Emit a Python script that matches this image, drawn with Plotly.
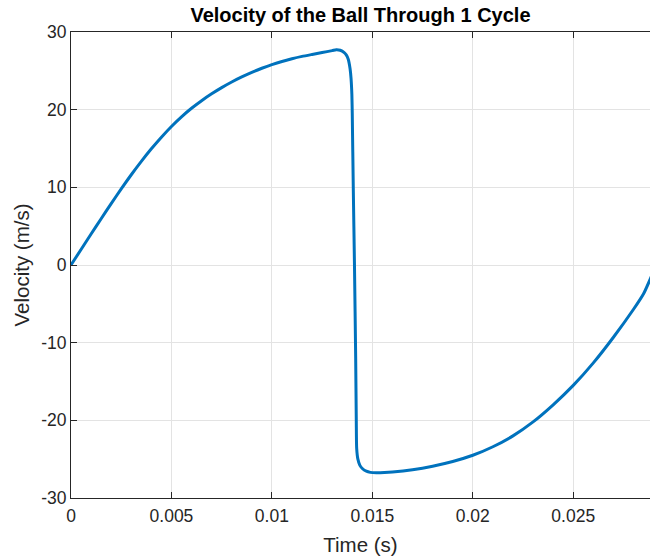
import plotly.graph_objects as go

# Sampled ball velocity over one cycle
time_s = [
    0.0, 0.0005, 0.001, 0.0015, 0.002, 0.0025, 0.003, 0.0035, 0.004, 0.0045,
    0.005, 0.0055, 0.006, 0.0065, 0.007, 0.0075, 0.008, 0.0085, 0.009, 0.0095,
    0.01, 0.0105, 0.011, 0.0115, 0.012, 0.0125, 0.013, 0.0132, 0.0134, 0.0136,
    0.0137, 0.0138, 0.01389, 0.01394, 0.01398, 0.0140, 0.01405, 0.01411, 0.01417,
    0.0142, 0.01422, 0.01428, 0.01438, 0.0145, 0.0147, 0.0149, 0.0152, 0.0156,
    0.016, 0.017, 0.018, 0.019, 0.02, 0.021, 0.022, 0.023, 0.024, 0.025,
    0.026, 0.027, 0.028, 0.0285, 0.0289,
]
velocity = [
    0.0, 2.00, 3.99, 5.96, 7.90, 9.80, 11.62, 13.34, 14.96, 16.46,
    17.84, 19.08, 20.18, 21.16, 22.04, 22.84, 23.56, 24.21, 24.80, 25.33,
    25.80, 26.21, 26.56, 26.86, 27.11, 27.35, 27.60, 27.72, 27.65, 27.35,
    27.05, 26.5, 25.3, 24.0, 22.0, 19.5, 10.0, 0.0, -12.0,
    -20.0, -23.6, -25.0, -25.8, -26.2, -26.55, -26.7, -26.75, -26.72,
    -26.65, -26.35, -25.9, -25.3, -24.5, -23.4, -22.0, -20.2, -18.0, -15.5,
    -12.6, -9.3, -5.7, -3.7, -1.4,
]

x_ticks = [0, 0.005, 0.01, 0.015, 0.02, 0.025]
x_labels = ["0", "0.005", "0.01", "0.015", "0.02", "0.025"]
y_ticks = [-30, -20, -10, 0, 10, 20, 30]
y_labels = ["-30", "-20", "-10", "0", "10", "20", "30"]

axis_color = "#262626"
grid_color = "#e3e3e3"
font_family = "Liberation Sans, Arial, Helvetica, sans-serif"

fig = go.Figure(
    go.Scatter(
        x=time_s,
        y=velocity,
        mode="lines",
        line=dict(color="#0072BD", width=3, shape="spline", smoothing=0.6),
        hoverinfo="x+y",
    )
)

fig.update_layout(
    width=650,
    height=556,
    margin=dict(l=71, r=0, t=32, b=58),
    paper_bgcolor="white",
    plot_bgcolor="white",
    showlegend=False,
    font=dict(family=font_family, size=17, color=axis_color),
    title=dict(
        text="<b>Velocity of the Ball Through 1 Cycle</b>",
        x=(71 + 650) / 2 / 650,
        xanchor="center",
        y=1 - 15 / 556,
        yanchor="middle",
        font=dict(family=font_family, size=20, color="black"),
    ),
)

fig.update_xaxes(
    range=[0, 0.02882],
    tickvals=x_ticks,
    ticktext=x_labels,
    showgrid=True,
    gridcolor=grid_color,
    gridwidth=1,
    zeroline=False,
    showline=True,
    linecolor=axis_color,
    linewidth=1,
    mirror="ticks",
    ticks="inside",
    ticklen=6,
    tickcolor=axis_color,
    ticklabelstandoff=2,
    tickfont=dict(size=17.5, color=axis_color),
    title=dict(text="Time (s)", font=dict(size=20.5, color=axis_color), standoff=12),
)

fig.update_yaxes(
    range=[-30, 30],
    tickvals=y_ticks,
    ticktext=y_labels,
    showgrid=True,
    gridcolor=grid_color,
    gridwidth=1,
    zeroline=False,
    showline=True,
    linecolor=axis_color,
    linewidth=1,
    mirror=False,
    ticks="inside",
    ticklen=6,
    tickcolor=axis_color,
    tickfont=dict(size=17.5, color=axis_color),
    title=dict(text="Velocity (m/s)", font=dict(size=20.5, color=axis_color), standoff=6),
)

fig.write_html("out.html")
